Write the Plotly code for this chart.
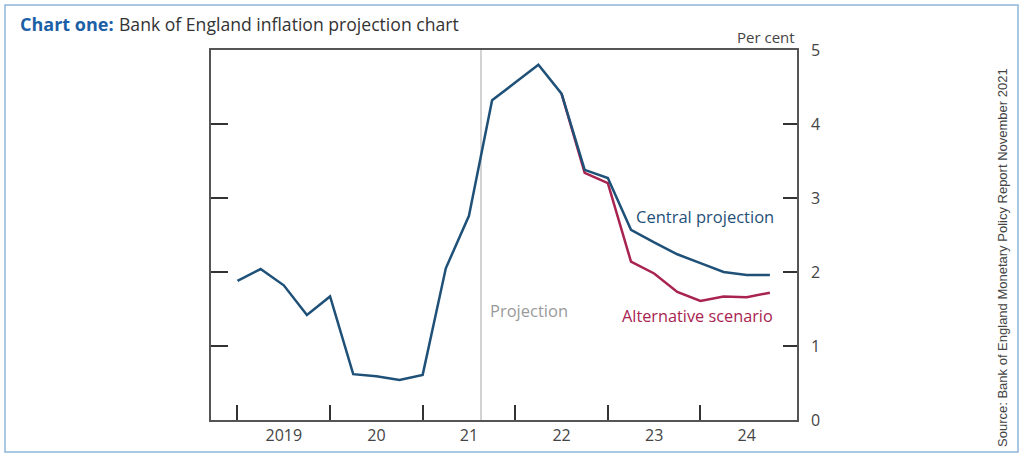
import plotly.graph_objects as go

# Quarterly positions (fractional year)
quarters = [2019 + 0.25 * k for k in range(24)]

central = [1.88, 2.04, 1.82, 1.42, 1.67, 0.62, 0.59, 0.54,
           0.61, 2.05, 2.76, 4.32, 4.56, 4.80, 4.41, 3.38,
           3.27, 2.57, 2.40, 2.24, 2.12, 2.00, 1.96, 1.96]

alternative = [None] * 14 + [4.41, 3.34, 3.20, 2.14, 1.98, 1.73, 1.61, 1.67, 1.66, 1.72]

year_ticks = [2019, 2020, 2021, 2022, 2023, 2024]
year_label_pos = [2019.5, 2020.5, 2021.5, 2022.5, 2023.5, 2024.5]
year_labels = ["2019", "20", "21", "22", "23", "24"]
projection_start = 2021.63

BLUE = "#1f5178"
RED = "#a8234f"
AXIS = "#555555"
TEXT = "#444444"

# plot area in pixels
W, H = 1024, 458
L, R, T, B = 211, 797, 50, 420


def px_x(p):
    return (p - L) / (R - L)


def px_y(p):
    return (B - p) / (B - T)


fig = go.Figure()
fig.add_trace(go.Scatter(x=quarters, y=alternative, mode="lines",
                         line=dict(color=RED, width=2.5), hoverinfo="skip",
                         showlegend=False))
fig.add_trace(go.Scatter(x=quarters, y=central, mode="lines",
                         line=dict(color=BLUE, width=2.5), hoverinfo="skip",
                         showlegend=False))
# dummy trace for left axis
fig.add_trace(go.Scatter(x=[quarters[0]], y=[0], yaxis="y2", mode="markers",
                         marker=dict(opacity=0), showlegend=False, hoverinfo="skip"))

fig.add_shape(type="line", xref="x", yref="y", x0=projection_start, x1=projection_start,
              y0=0, y1=5, line=dict(color="#b5b5b5", width=1.2), layer="below")

# outer border
fig.add_shape(type="rect", xref="paper", yref="paper",
              x0=px_x(5), x1=px_x(1018), y0=px_y(452), y1=px_y(5),
              line=dict(color="#8fb6db", width=1.5))

fig.update_layout(
    width=W, height=H,
    margin=dict(l=L, r=W - R, t=T, b=H - B),
    paper_bgcolor="white", plot_bgcolor="white",
    font=dict(family="Open Sans", color=TEXT),
    xaxis=dict(range=[2018.714, 2025.043], showline=True, mirror=True,
               linecolor=AXIS, linewidth=1.5, showgrid=False, zeroline=False,
               tickmode="array", tickvals=year_label_pos, ticktext=year_labels,
               ticks="", tickfont=dict(size=16, color=TEXT), automargin=False,
               minor=dict(tickmode="array", tickvals=year_ticks, ticks="inside",
                          ticklen=15, tickwidth=1.5, tickcolor="#333333", showgrid=False)),
    yaxis=dict(range=[0, 5], side="right", showline=True, linecolor=AXIS, linewidth=1.5,
               tickmode="array", tickvals=[0, 1, 2, 3, 4, 5], ticks="inside", ticklen=14,
               tickwidth=1.5, tickcolor="#333333", showgrid=False, zeroline=False,
               ticklabelstandoff=9, tickfont=dict(size=16, color=TEXT), automargin=False),
    yaxis2=dict(range=[0, 5], overlaying="y", side="left", showline=True,
                linecolor=AXIS, linewidth=1.5, tickmode="array", tickvals=[1, 2, 3, 4],
                ticks="inside", ticklen=17, tickwidth=1.5, tickcolor="#333333",
                showticklabels=False, showgrid=False, zeroline=False, automargin=False),
)

ann = [
    dict(x=px_x(18), y=px_y(24), xanchor="left", yanchor="middle",
         text="<b>Chart one:</b>", font=dict(family="Open Sans", size=18, color="#1c5fa6", weight=800)),
    dict(x=px_x(117), y=px_y(24), xanchor="left", yanchor="middle",
         text="Bank of England inflation projection chart",
         font=dict(family="Open Sans", size=17.6, color="#333333")),
    dict(x=px_x(797), y=px_y(37), xanchor="right", yanchor="middle",
         text="Per cent", font=dict(size=15, color=TEXT)),
    dict(x=px_x(634), y=px_y(216), xanchor="left", yanchor="middle",
         text="Central projection", font=dict(size=16.5, color=BLUE)),
    dict(x=px_x(620), y=px_y(316), xanchor="left", yanchor="middle",
         text="Alternative scenario", font=dict(size=16.3, color=RED)),
    dict(x=px_x(488), y=px_y(310), xanchor="left", yanchor="middle",
         text="Projection", font=dict(size=16.5, color="#9a9a9a")),
    dict(x=px_x(1002), y=px_y(258), xanchor="center", yanchor="middle", textangle=-90,
         text="Source: Bank of England Monetary Policy Report November 2021",
         font=dict(family="Liberation Sans", size=13, color="#444444")),
]
for a in ann:
    a.update(xref="paper", yref="paper", showarrow=False)
    fig.add_annotation(**a)

fig.write_html("out.html", config={"displayModeBar": False},
               post_script="document.body.style.margin='0';document.body.style.overflow='hidden';")
